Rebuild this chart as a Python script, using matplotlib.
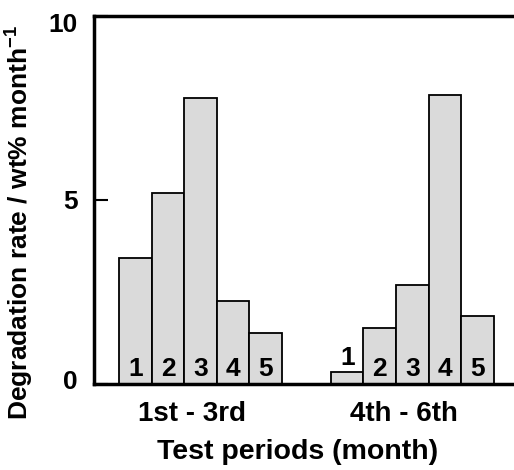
import matplotlib
matplotlib.use("Agg")
import matplotlib.pyplot as plt
import matplotlib.transforms as mtransforms
import numpy as np

plt.rcParams["font.family"] = ["Liberation Sans", "DejaVu Sans"]
plt.rcParams["font.weight"] = "bold"
plt.rcParams["mathtext.fontset"] = "custom"
plt.rcParams["mathtext.rm"] = "Liberation Sans:bold"
plt.rcParams["mathtext.bf"] = "Liberation Sans:bold"

# Degradation rate per sample, for each test period
periods = ["1st - 3rd", "4th - 6th"]
sample_ids = ["1", "2", "3", "4", "5"]
rate_1st_3rd = [3.42, 5.18, 7.76, 2.25, 1.38]
rate_4th_6th = [0.32, 1.52, 2.68, 7.85, 1.84]

BAR_FILL = "#dadada"
GROUP_GAP = 1.5  # space between the two groups, in bar widths

fig = plt.figure(figsize=(5.14, 4.70), dpi=100)
ax = fig.add_axes([0.183, 0.183, 0.817, 0.783])

n = len(sample_ids)
group_centers = []
for g, rates in enumerate([rate_1st_3rd, rate_4th_6th]):
    start = g * (n + GROUP_GAP)
    xs = start + np.arange(n)
    ax.bar(xs, rates, width=1.0, color=BAR_FILL, edgecolor="black", linewidth=1.3, zorder=2)
    for x, h, lab in zip(xs, rates, sample_ids):
        # number sits inside the bar, or just above it when the bar is too short
        y = 0.22 if h > 1.0 else h + 0.2
        ax.text(x, y, lab, ha="center", va="baseline", fontsize=19, fontweight="bold", zorder=3)
    group_centers.append(xs.mean())

ax.set_xlim(-1.27, 11.62)
ax.set_ylim(0, 10)

ax.set_xticks(np.array(group_centers) - 0.27)
ax.set_xticklabels(periods)
ax.set_yticks([0, 5, 10])
ax.tick_params(axis="x", length=0, pad=12, labelsize=20)
ax.tick_params(axis="y", direction="in", length=10, width=1.5, pad=12, labelsize=19)

# pull the end labels slightly inward (offsets in pixels)
for lbl, dy in zip(ax.get_yticklabels(), [4, 0, -7]):
    lbl.set_transform(lbl.get_transform() + mtransforms.ScaledTranslation(0, dy / fig.dpi, fig.dpi_scale_trans))

for side in ["left", "bottom", "top"]:
    ax.spines[side].set_linewidth(2.5)
ax.spines["right"].set_visible(False)

ax.set_xlabel("Test periods (month)", fontsize=20.5, fontweight="bold")
ax.xaxis.set_label_coords(0.485, -0.15)
ax.set_ylabel(r"Degradation rate / wt% month$^{\mathbf{-1}}$", fontsize=19, fontweight="bold")
ax.yaxis.set_label_coords(-0.14, 0.44)

fig.savefig("out.png", dpi=100)
